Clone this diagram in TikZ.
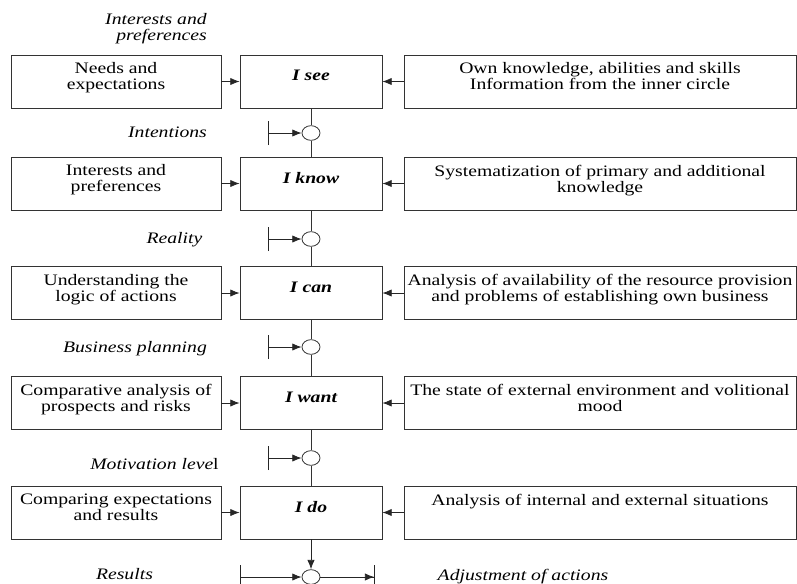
\documentclass[tikz,border=0pt]{standalone}
\usepackage{fontspec}
\setmainfont[FakeStretch=1.23]{Liberation Serif}
\usetikzlibrary{positioning,arrows.meta,shapes.geometric}

\tikzset{
  box/.style={draw=black!80, line width=0.6pt, minimum height=39.75pt, inner sep=0pt},
  lbox/.style={box, minimum width=157.5pt},
  mbox/.style={box, minimum width=106.5pt},
  rbox/.style={box, minimum width=294pt},
  txt/.style={align=center, inner sep=0pt, font=\fontsize{12pt}{12pt}\selectfont},
  mtxt/.style={txt, font=\fontsize{12pt}{12pt}\selectfont\bfseries\itshape},
  lab/.style={anchor=base, inner sep=0pt, font=\fontsize{12pt}{12pt}\selectfont\itshape},
  junc/.style={draw=black!80, line width=0.6pt, ellipse, minimum width=13.5pt, minimum height=11pt, inner sep=0pt},
  flow/.style={line width=0.6pt, draw=black!85, -{Latex[length=7pt,width=5.5pt]}},
  feed/.style={line width=0.6pt, draw=black!85, {Bar[width=18pt]}-{Latex[length=7pt,width=5.5pt]}},
  link/.style={line width=0.6pt, draw=black!80}
}

\begin{document}
\begin{tikzpicture}[x=0.75pt,y=-0.75pt]
\useasboundingbox (0,0) rectangle (797,583);
\clip (0,0) rectangle (797,583);

% top label
\node[lab, anchor=east, align=right] (pref) at (207,29) {Interests and\\preferences};

% row 1
\node[lbox] (l1) at (116,81.5) {};
\node[mbox] (m1) at (311,81.5) {};
\node[rbox] (r1) at (600,81.5) {};
\node[txt, below=6pt] (l1t) at (l1.north) {Needs and\\expectations};
\node[mtxt, below=11.5pt] (m1t) at (m1.north) {I see};
\node[txt, below=6pt] (r1t) at (r1.north) {Own knowledge, abilities and skills\\Information from the inner circle};

% row 2
\node[lbox] (l2) at (116,183.5) {};
\node[mbox] (m2) at (311,183.5) {};
\node[rbox] (r2) at (600,183.5) {};
\node[txt, below=6pt] (l2t) at (l2.north) {Interests and\\preferences};
\node[mtxt, below=11.5pt] (m2t) at (m2.north) {I know};
\node[txt, below=6pt] (r2t) at (r2.north) {Systematization of primary and additional\\knowledge};

% row 3
\node[lbox] (l3) at (116,293) {};
\node[mbox] (m3) at (311,293) {};
\node[rbox] (r3) at (600,293) {};
\node[txt, below=6pt] (l3t) at (l3.north) {Understanding the\\logic of actions};
\node[mtxt, below=11.5pt] (m3t) at (m3.north) {I can};
\node[txt, below=6pt] (r3t) at (r3.north) {Analysis of availability of the resource provision\\and problems of establishing own business};

% row 4
\node[lbox] (l4) at (116,403) {};
\node[mbox] (m4) at (311,403) {};
\node[rbox] (r4) at (600,403) {};
\node[txt, below=6pt] (l4t) at (l4.north) {Comparative analysis of\\prospects and risks};
\node[mtxt, below=11.5pt] (m4t) at (m4.north) {I want};
\node[txt, below=6pt] (r4t) at (r4.north) {The state of external environment and volitional\\mood};

% row 5
\node[lbox] (l5) at (116,512.5) {};
\node[mbox] (m5) at (311,512.5) {};
\node[rbox] (r5) at (600,512.5) {};
\node[txt, below=6pt] (l5t) at (l5.north) {Comparing expectations\\and results};
\node[mtxt, below=11.5pt] (m5t) at (m5.north) {I do};
\node[txt, below=6pt] (r5t) at (r5.north) {Analysis of internal and external situations};

% junctions
\node[junc] (c1) at (311,133) {};
\node[junc] (c2) at (311,239) {};
\node[junc] (c3) at (311,347) {};
\node[junc] (c4) at (311,458) {};
\node[junc] (c5) at (311,577) {};
\coordinate (f1) at (268,133);
\coordinate (f2) at (268,239);
\coordinate (f3) at (268,347);
\coordinate (f4) at (268,458);
\coordinate (f5) at (240,577);
\coordinate (e5) at (375,577);

% labels
\node[lab] (intent) at (167.5,137) {Intentions};
\node[lab] (real) at (174.5,243) {Reality};
\node[lab] (plan) at (135,352) {Business planning};
\node[lab] (motiv) at (154.5,469) {Motivation leve\textup{l}};
\node[lab] (res) at (124.5,579) {Results};
\node[lab] (adj) at (523,580) {Adjustment of actions};

% arrows into the middle column
\draw[flow] (l1) -- (m1); \draw[flow] (r1) -- (m1);
\draw[flow] (l2) -- (m2); \draw[flow] (r2) -- (m2);
\draw[flow] (l3) -- (m3); \draw[flow] (r3) -- (m3);
\draw[flow] (l4) -- (m4); \draw[flow] (r4) -- (m4);
\draw[flow] (l5) -- (m5); \draw[flow] (r5) -- (m5);

% vertical chain
\draw[link] (m1) -- (c1) -- (m2);
\draw[link] (m2) -- (c2) -- (m3);
\draw[link] (m3) -- (c3) -- (m4);
\draw[link] (m4) -- (c4) -- (m5);
\draw[flow] (m5) -- (c5);

% side inputs
\draw[feed] (f1) -- (c1);
\draw[feed] (f2) -- (c2);
\draw[feed] (f3) -- (c3);
\draw[feed] (f4) -- (c4);
\draw[feed] (f5) -- (c5);
\draw[flow, -{Latex[length=7pt,width=5.5pt]Bar[width=18pt]}] (c5) -- (e5);
\end{tikzpicture}
\end{document}
